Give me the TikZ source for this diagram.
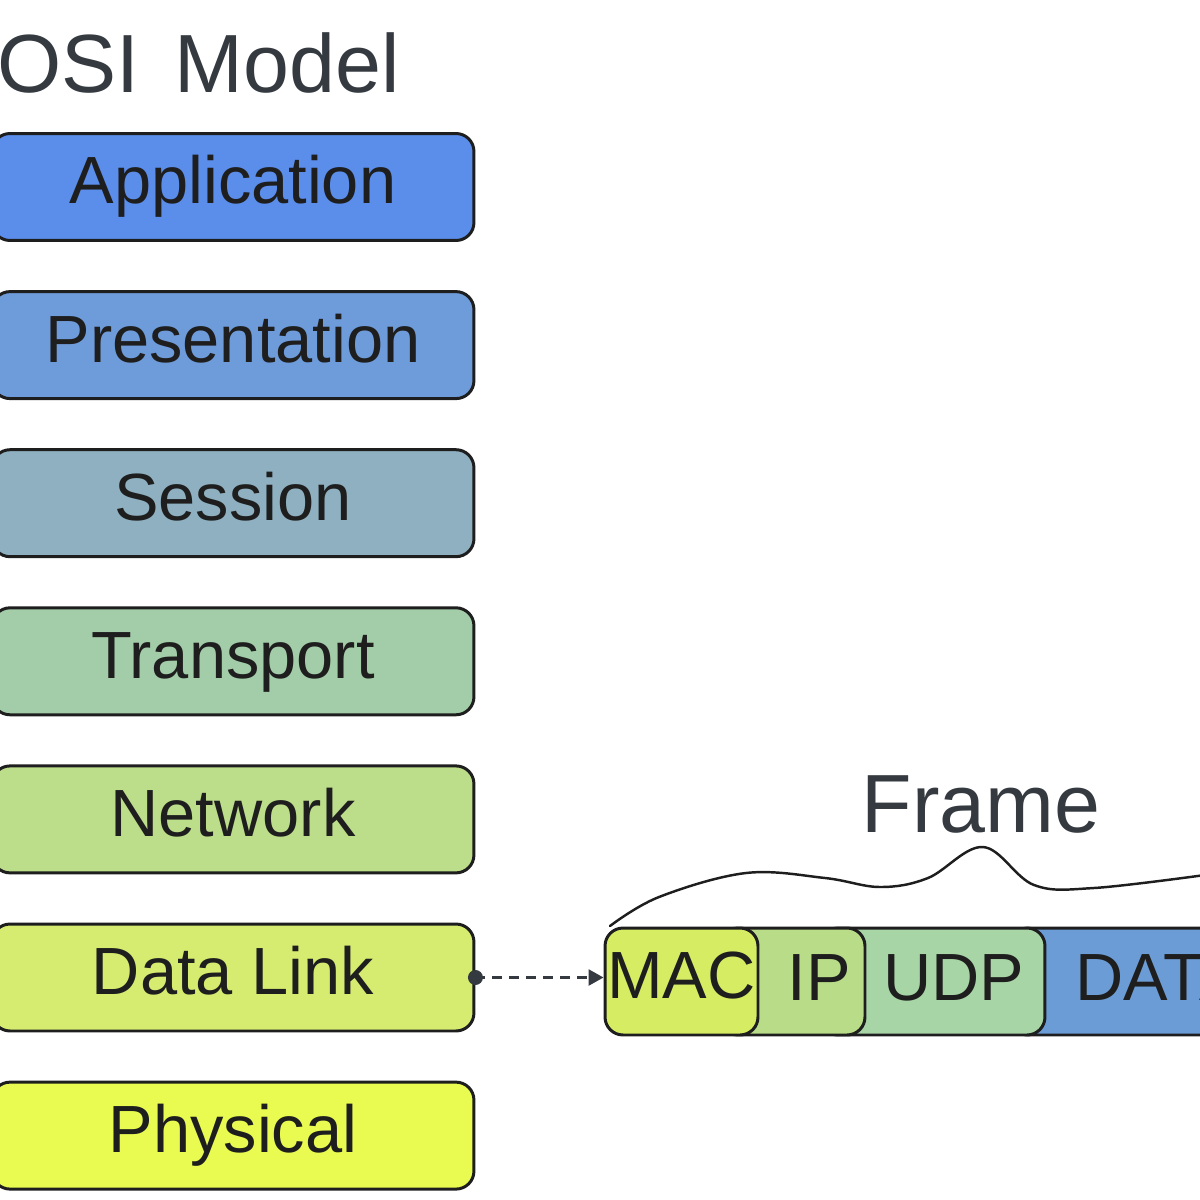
\documentclass[tikz,border=0pt]{standalone}
\usepackage{fontspec}
\setmainfont{Liberation Sans}
\usetikzlibrary{arrows.meta}

\definecolor{inkdark}{HTML}{1E1E1E}
\definecolor{titlegray}{HTML}{343A40}
\definecolor{appblue}{HTML}{5B8DEB}
\definecolor{presblue}{HTML}{6E9BDA}
\definecolor{sessgray}{HTML}{8EB0C0}
\definecolor{transgreen}{HTML}{A3CDA8}
\definecolor{netgreen}{HTML}{BCDD8A}
\definecolor{linkyellow}{HTML}{D5EC70}
\definecolor{physyellow}{HTML}{E9FB50}
\definecolor{macyellow}{HTML}{D6EC62}
\definecolor{ipgreen}{HTML}{B8DC88}
\definecolor{udpgreen}{HTML}{A8D5A6}
\definecolor{datablue}{HTML}{6C9CD6}

\begin{document}
\begin{tikzpicture}[x=0.02cm, y=-0.02cm,
    layer/.style={draw=inkdark, line width=1.7pt, rounded corners=0.36cm,
      minimum width=9.64cm, minimum height=2.14cm, inner sep=0pt,
      text=inkdark, font=\fontsize{38}{40}\selectfont,
      text height=0.98cm, text depth=0.3cm},
    seg/.style={layer, minimum height=2.14cm},
    lbl/.style={text=inkdark, font=\fontsize{38}{40}\selectfont, inner sep=0pt},
    heading/.style={text=titlegray, font=\fontsize{47}{50}\selectfont, inner sep=0pt},
    brace/.style={draw=inkdark, line width=1.4pt, line cap=round},
    link/.style={draw=titlegray, line width=1.5pt,
      dash pattern=on 0.2cm off 0.14cm,
      -{Triangle[length=0.3cm, width=0.32cm]}}]
  \useasboundingbox (0,0) rectangle (1200,1200);
  \clip (0,0) rectangle (1200,1200);

  % title
  \node[heading, anchor=base east] (title) at (400, 92) {OSI\hspace{0.7cm}Model};

  % layers
  \foreach \name/\txt/\col [count=\i from 0] in {app/Application/appblue,
      pres/Presentation/presblue, sess/Session/sessgray,
      trans/Transport/transgreen, net/Network/netgreen,
      datalink/Data Link/linkyellow, phys/Physical/physyellow} {
    \node[layer, fill=\col] (\name) at (233, 187+158.1*\i) {\txt};
  }

  % frame
  \node[seg, fill=datablue, minimum width=5.8cm] (databox) at (1155, 981.5) {};
  \node[seg, fill=udpgreen, minimum width=4.5cm] (udpbox) at (932.5, 981.5) {};
  \node[seg, fill=ipgreen, minimum width=2.9cm] (ipbox) at (792.5, 981.5) {};
  \node[seg, fill=macyellow, minimum width=3.06cm] (mac) at (681.5, 981.5) {MAC};
  \node[lbl, anchor=base] (iplbl) at (819, 1000) {IP};
  \node[lbl, anchor=base] (udplbl) at (954, 1000) {UDP};
  \node[lbl, anchor=base west] (datalbl) at (1075, 1000) {DATA};

  \node[heading, anchor=base] (frame) at (981, 832) {Frame};
  \draw[brace] plot[smooth, tension=0.6] coordinates {(610,926) (659,897)
    (746,873) (825,878) (880,887) (928,878) (983,847) (1034,885)
    (1094,888) (1205,875)};

  % datalink -> frame
  \fill[titlegray] (datalink.east) circle (0.15cm);
  \draw[link] (datalink.east) -- (datalink.east -| mac.west);
\end{tikzpicture}
\end{document}
